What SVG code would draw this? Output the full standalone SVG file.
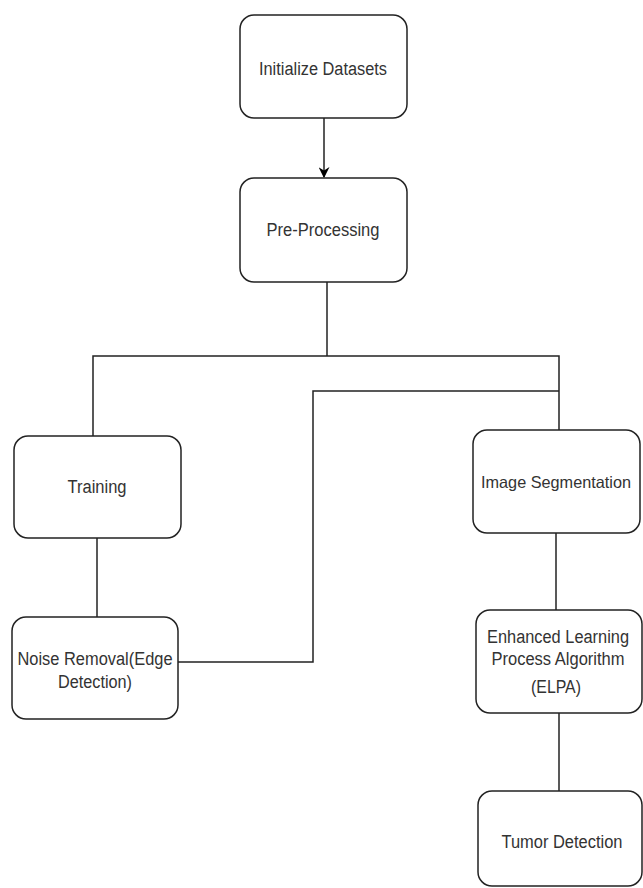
<svg xmlns="http://www.w3.org/2000/svg" width="643" height="888" viewBox="0 0 643 888">
<style>
.box{fill:#fff;stroke:#222;stroke-width:1.5}
.lbl{font-family:"Liberation Sans",Arial,sans-serif;font-size:18px;fill:#333;text-anchor:middle}
.conn{fill:none;stroke:#222;stroke-width:1.5}
</style>
<defs>
<marker id="arr" viewBox="0 0 10 10" refX="9" refY="5" markerWidth="11" markerHeight="11" markerUnits="userSpaceOnUse" orient="auto">
<path d="M0,0 L10,5 L0,10 L3,5 z" fill="#000"/>
</marker>
</defs>
<rect width="643" height="888" fill="#fff"/>
<g id="connectors">
<line class="conn" x1="324" y1="118" x2="324" y2="177" marker-end="url(#arr)"/>
<polyline class="conn" points="327,282 327,356"/>
<polyline class="conn" points="93,436 93,356 559,356 559,430"/>
<line class="conn" x1="97" y1="538" x2="97" y2="617"/>
<polyline class="conn" points="178,662 313,662 313,391 559,391"/>
<line class="conn" x1="556" y1="533" x2="556" y2="610"/>
<line class="conn" x1="559" y1="713" x2="559" y2="791"/>
</g>
<g id="n1"><rect class="box" x="240" y="15" width="167" height="103" rx="14"/><text class="lbl" x="323" y="75" textLength="128" lengthAdjust="spacingAndGlyphs">Initialize Datasets</text></g>
<g id="n2"><rect class="box" x="240" y="178" width="167" height="104" rx="14"/><text class="lbl" x="323" y="236" textLength="113" lengthAdjust="spacingAndGlyphs">Pre-Processing</text></g>
<g id="n3"><rect class="box" x="14" y="436" width="167" height="102" rx="14"/><text class="lbl" x="97" y="493" textLength="59" lengthAdjust="spacingAndGlyphs">Training</text></g>
<g id="n4"><rect class="box" x="12" y="617" width="166" height="102" rx="14"/><text class="lbl" x="95" y="665" textLength="155" lengthAdjust="spacingAndGlyphs">Noise Removal(Edge</text><text class="lbl" x="95" y="688" textLength="74" lengthAdjust="spacingAndGlyphs">Detection)</text></g>
<g id="n5"><rect class="box" x="473" y="430" width="167" height="103" rx="14"/><text class="lbl" x="556" y="488" style="font-size:16.5px" textLength="150" lengthAdjust="spacingAndGlyphs">Image Segmentation</text></g>
<g id="n6"><rect class="box" x="476" y="610" width="166" height="103" rx="14"/><text class="lbl" x="558" y="643" textLength="142" lengthAdjust="spacingAndGlyphs">Enhanced Learning</text><text class="lbl" x="558" y="665" textLength="133" lengthAdjust="spacingAndGlyphs">Process Algorithm</text><text class="lbl" x="556" y="693" textLength="50" lengthAdjust="spacingAndGlyphs">(ELPA)</text></g>
<g id="n7"><rect class="box" x="478" y="791" width="164" height="95" rx="14"/><text class="lbl" x="562" y="848" textLength="121" lengthAdjust="spacingAndGlyphs">Tumor Detection</text></g>
</svg>
